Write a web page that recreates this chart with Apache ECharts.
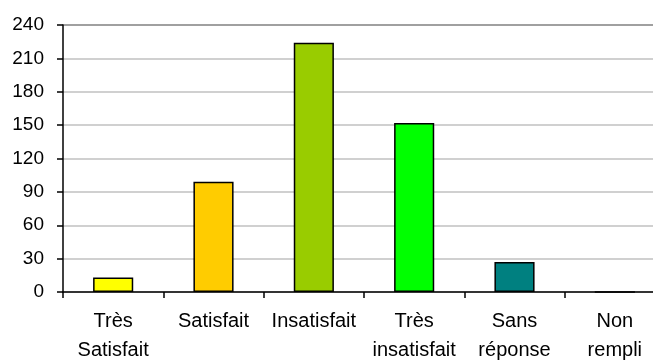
<!DOCTYPE html>
<html><head><meta charset="utf-8">
<script src="https://cdn.jsdelivr.net/npm/echarts@6/dist/echarts.min.js"></script>
<style>html,body{margin:0;padding:0;background:#fff}#c{width:653px;height:361px}</style>
</head><body><div id="c"></div>
<script>
const categories = ["Très Satisfait", "Satisfait", "Insatisfait", "Très insatisfait", "Sans réponse", "Non rempli"];
const values = [13, 99, 224, 152, 27, 0];
const barColors = ["#FFFF00", "#FFCC00", "#99CC00", "#00FF00", "#008080", "#C0C0C0"];
const yTicks = [0, 30, 60, 90, 120, 150, 180, 210, 240];

const chart = echarts.init(document.getElementById('c'), null, {renderer: 'canvas'});
const font = 'Liberation Sans, Arial, sans-serif';
chart.setOption({
  animation: false,
  grid: {left: 63, top: 25, width: 602, height: 267, containLabel: false, outerBoundsMode: 'none'},
  xAxis: {
    type: 'category', data: categories,
    axisLine: {lineStyle: {color: '#000', width: 1.5}},
    axisTick: {show: true, length: 6, alignWithLabel: false, lineStyle: {color: '#000', width: 1.5}},
    axisLabel: {color: '#000', fontFamily: font, fontSize: 20, lineHeight: 29, margin: 15, interval: 0,
      formatter: v => v.replace(' ', '\n')}
  },
  yAxis: {
    type: 'value', min: yTicks[0], max: yTicks[yTicks.length - 1], interval: 30,
    axisLine: {show: true, lineStyle: {color: '#000', width: 1.5}},
    axisTick: {show: true, length: 6, lineStyle: {color: '#000', width: 1.5}},
    axisLabel: {color: '#000', fontFamily: font, fontSize: 19, margin: 19},
    splitLine: {show: true, lineStyle: {color: ['#C0C0C0','#C0C0C0','#C0C0C0','#C0C0C0','#C0C0C0','#C0C0C0','#C0C0C0','#C0C0C0','#808080'], width: 1.5}}
  },
  series: [{
    type: 'bar', barWidth: '40%',
    data: values.map((v, i) => ({value: v, itemStyle: {color: barColors[i]}})),
    itemStyle: {borderColor: '#000', borderWidth: 1.5}
  }]
});
</script></body></html>
